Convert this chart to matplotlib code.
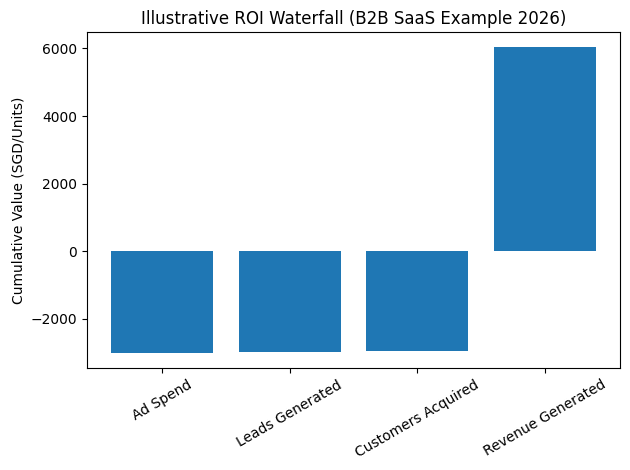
import matplotlib
matplotlib.use("Agg")
import matplotlib.pyplot as plt

# Stages and cumulative values
stages = ["Ad Spend", "Leads Generated", "Customers Acquired", "Revenue Generated"]
cumulative = [-3000, -2965, -2963, 6035]

fig, ax = plt.subplots(figsize=(6.3, 4.7), dpi=100)
ax.bar(stages, cumulative)
ax.set_title("Illustrative ROI Waterfall (B2B SaaS Example 2026)")
ax.set_ylabel("Cumulative Value (SGD/Units)")
plt.xticks(rotation=30)
fig.subplots_adjust(left=0.138, right=0.984, top=0.932, bottom=0.217)
plt.savefig("out.png")
